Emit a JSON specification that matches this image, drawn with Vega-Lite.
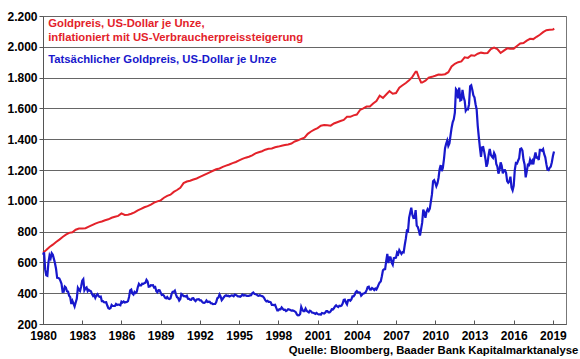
{
  "$schema": "https://vega.github.io/schema/vega-lite/v6.json",
  "width": 523,
  "height": 308,
  "autosize": {"type": "none"},
  "padding": {"left": 43, "top": 16, "right": 14, "bottom": 35},
  "background": "white",
  "config": {
    "view": {"stroke": "#777", "strokeWidth": 1},
    "font": "Liberation Sans"
  },
  "title": {
    "text": "Quelle: Bloomberg, Baader Bank Kapitalmarktanalyse",
    "orient": "bottom",
    "anchor": "end",
    "fontSize": 11.3,
    "fontWeight": "bold",
    "font": "Liberation Sans",
    "color": "#000",
    "offset": 4,
    "dx": 12
  },
  "datasets": {
    "infl": [
      {"t":1980.0,"v":662},{"t":1980.25,"v":680},{"t":1980.5,"v":700},{"t":1980.75,"v":715},
      {"t":1981.0,"v":733},{"t":1981.25,"v":748},{"t":1981.5,"v":765},{"t":1981.75,"v":780},
      {"t":1982.0,"v":792},{"t":1982.25,"v":796},{"t":1982.5,"v":812},{"t":1982.75,"v":820},
      {"t":1983.0,"v":820},{"t":1983.25,"v":822},{"t":1983.5,"v":832},{"t":1983.75,"v":842},
      {"t":1984.0,"v":852},{"t":1984.25,"v":860},{"t":1984.5,"v":866},{"t":1984.75,"v":874},
      {"t":1985.0,"v":880},{"t":1985.25,"v":890},{"t":1985.5,"v":896},{"t":1985.75,"v":902},
      {"t":1986.0,"v":918},{"t":1986.25,"v":908},{"t":1986.5,"v":910},{"t":1986.75,"v":916},
      {"t":1987.0,"v":925},{"t":1987.25,"v":938},{"t":1987.5,"v":948},{"t":1987.75,"v":958},
      {"t":1988.0,"v":965},{"t":1988.25,"v":975},{"t":1988.5,"v":988},{"t":1988.75,"v":996},
      {"t":1989.0,"v":1003},{"t":1989.25,"v":1020},{"t":1989.5,"v":1032},{"t":1989.75,"v":1040},
      {"t":1990.0,"v":1058},{"t":1990.25,"v":1070},{"t":1990.5,"v":1085},{"t":1990.75,"v":1115},
      {"t":1991.0,"v":1125},{"t":1991.25,"v":1130},{"t":1991.5,"v":1138},{"t":1991.75,"v":1145},
      {"t":1992.0,"v":1155},{"t":1992.25,"v":1165},{"t":1992.5,"v":1175},{"t":1992.75,"v":1185},
      {"t":1993.0,"v":1195},{"t":1993.25,"v":1205},{"t":1993.5,"v":1210},{"t":1993.75,"v":1220},
      {"t":1994.0,"v":1228},{"t":1994.25,"v":1236},{"t":1994.5,"v":1245},{"t":1994.75,"v":1252},
      {"t":1995.0,"v":1262},{"t":1995.25,"v":1272},{"t":1995.5,"v":1280},{"t":1995.75,"v":1286},
      {"t":1996.0,"v":1295},{"t":1996.25,"v":1308},{"t":1996.5,"v":1315},{"t":1996.75,"v":1322},
      {"t":1997.0,"v":1332},{"t":1997.25,"v":1338},{"t":1997.5,"v":1340},{"t":1997.75,"v":1348},
      {"t":1998.0,"v":1352},{"t":1998.25,"v":1358},{"t":1998.5,"v":1362},{"t":1998.75,"v":1366},
      {"t":1999.0,"v":1372},{"t":1999.25,"v":1385},{"t":1999.5,"v":1392},{"t":1999.75,"v":1402},
      {"t":2000.0,"v":1410},{"t":2000.25,"v":1435},{"t":2000.5,"v":1450},{"t":2000.75,"v":1462},
      {"t":2001.0,"v":1472},{"t":2001.25,"v":1488},{"t":2001.5,"v":1492},{"t":2001.75,"v":1490},
      {"t":2002.0,"v":1488},{"t":2002.25,"v":1502},{"t":2002.5,"v":1510},{"t":2002.75,"v":1518},
      {"t":2003.0,"v":1525},{"t":2003.25,"v":1545},{"t":2003.5,"v":1545},{"t":2003.75,"v":1555},
      {"t":2004.0,"v":1560},{"t":2004.25,"v":1590},{"t":2004.5,"v":1600},{"t":2004.75,"v":1612},
      {"t":2005.0,"v":1612},{"t":2005.25,"v":1632},{"t":2005.5,"v":1648},{"t":2005.75,"v":1682},
      {"t":2006.0,"v":1668},{"t":2006.25,"v":1690},{"t":2006.5,"v":1712},{"t":2006.75,"v":1695},
      {"t":2007.0,"v":1700},{"t":2007.25,"v":1735},{"t":2007.5,"v":1750},{"t":2007.75,"v":1765},
      {"t":2008.0,"v":1782},{"t":2008.25,"v":1805},{"t":2008.5,"v":1838},{"t":2008.583,"v":1838},
      {"t":2008.75,"v":1800},{"t":2008.917,"v":1768},{"t":2009.0,"v":1768},{"t":2009.25,"v":1780},
      {"t":2009.5,"v":1800},{"t":2009.75,"v":1805},{"t":2010.0,"v":1812},{"t":2010.25,"v":1820},
      {"t":2010.5,"v":1818},{"t":2010.75,"v":1822},{"t":2011.0,"v":1835},{"t":2011.25,"v":1872},
      {"t":2011.5,"v":1890},{"t":2011.75,"v":1900},{"t":2012.0,"v":1905},{"t":2012.25,"v":1932},
      {"t":2012.5,"v":1928},{"t":2012.75,"v":1945},{"t":2013.0,"v":1942},{"t":2013.25,"v":1955},
      {"t":2013.5,"v":1962},{"t":2013.75,"v":1958},{"t":2014.0,"v":1960},{"t":2014.25,"v":1985},
      {"t":2014.5,"v":1995},{"t":2014.75,"v":1985},{"t":2015.0,"v":1960},{"t":2015.25,"v":1975},
      {"t":2015.5,"v":1990},{"t":2015.75,"v":1988},{"t":2016.0,"v":1988},{"t":2016.25,"v":2005},
      {"t":2016.5,"v":2022},{"t":2016.75,"v":2025},{"t":2017.0,"v":2040},{"t":2017.25,"v":2052},
      {"t":2017.5,"v":2050},{"t":2017.75,"v":2065},{"t":2018.0,"v":2078},{"t":2018.25,"v":2095},
      {"t":2018.5,"v":2108},{"t":2018.75,"v":2110},{"t":2019.0,"v":2112},{"t":2019.1,"v":2118}
    ],
    "gold": [
      {"t":1980.0,"v":650},{"t":1980.083,"v":665},{"t":1980.167,"v":553},{"t":1980.25,"v":517},{"t":1980.333,"v":513},{"t":1980.417,"v":600},{"t":1980.5,"v":644},{"t":1980.583,"v":627},{"t":1980.667,"v":660},{"t":1980.75,"v":650},{"t":1980.833,"v":623},{"t":1980.917,"v":594},
      {"t":1981.0,"v":557},{"t":1981.083,"v":500},{"t":1981.167,"v":499},{"t":1981.25,"v":495},{"t":1981.333,"v":480},{"t":1981.417,"v":461},{"t":1981.5,"v":409},{"t":1981.583,"v":410},{"t":1981.667,"v":443},{"t":1981.75,"v":437},{"t":1981.833,"v":413},{"t":1981.917,"v":410},
      {"t":1982.0,"v":384},{"t":1982.083,"v":374},{"t":1982.167,"v":330},{"t":1982.25,"v":350},{"t":1982.333,"v":333},{"t":1982.417,"v":314},{"t":1982.5,"v":340},{"t":1982.583,"v":364},{"t":1982.667,"v":435},{"t":1982.75,"v":422},{"t":1982.833,"v":414},{"t":1982.917,"v":444},
      {"t":1983.0,"v":481},{"t":1983.083,"v":491},{"t":1983.167,"v":419},{"t":1983.25,"v":432},{"t":1983.333,"v":438},{"t":1983.417,"v":413},{"t":1983.5,"v":422},{"t":1983.583,"v":416},{"t":1983.667,"v":412},{"t":1983.75,"v":394},{"t":1983.833,"v":382},{"t":1983.917,"v":388},
      {"t":1984.0,"v":370},{"t":1984.083,"v":386},{"t":1984.167,"v":394},{"t":1984.25,"v":381},{"t":1984.333,"v":377},{"t":1984.417,"v":378},{"t":1984.5,"v":348},{"t":1984.583,"v":348},{"t":1984.667,"v":341},{"t":1984.75,"v":340},{"t":1984.833,"v":341},{"t":1984.917,"v":320},
      {"t":1985.0,"v":303},{"t":1985.083,"v":299},{"t":1985.167,"v":304},{"t":1985.25,"v":324},{"t":1985.333,"v":317},{"t":1985.417,"v":317},{"t":1985.5,"v":317},{"t":1985.583,"v":330},{"t":1985.667,"v":323},{"t":1985.75,"v":326},{"t":1985.833,"v":325},{"t":1985.917,"v":322},
      {"t":1986.0,"v":345},{"t":1986.083,"v":339},{"t":1986.167,"v":346},{"t":1986.25,"v":340},{"t":1986.333,"v":342},{"t":1986.417,"v":343},{"t":1986.5,"v":348},{"t":1986.583,"v":376},{"t":1986.667,"v":418},{"t":1986.75,"v":423},{"t":1986.833,"v":398},{"t":1986.917,"v":391},
      {"t":1987.0,"v":408},{"t":1987.083,"v":401},{"t":1987.167,"v":408},{"t":1987.25,"v":439},{"t":1987.333,"v":460},{"t":1987.417,"v":450},{"t":1987.5,"v":450},{"t":1987.583,"v":461},{"t":1987.667,"v":460},{"t":1987.75,"v":465},{"t":1987.833,"v":468},{"t":1987.917,"v":487},
      {"t":1988.0,"v":477},{"t":1988.083,"v":442},{"t":1988.167,"v":443},{"t":1988.25,"v":452},{"t":1988.333,"v":451},{"t":1988.417,"v":452},{"t":1988.5,"v":437},{"t":1988.583,"v":440},{"t":1988.667,"v":413},{"t":1988.75,"v":406},{"t":1988.833,"v":420},{"t":1988.917,"v":419},
      {"t":1989.0,"v":404},{"t":1989.083,"v":388},{"t":1989.167,"v":390},{"t":1989.25,"v":384},{"t":1989.333,"v":371},{"t":1989.417,"v":367},{"t":1989.5,"v":375},{"t":1989.583,"v":365},{"t":1989.667,"v":362},{"t":1989.75,"v":367},{"t":1989.833,"v":394},{"t":1989.917,"v":409},
      {"t":1990.0,"v":410},{"t":1990.083,"v":417},{"t":1990.167,"v":393},{"t":1990.25,"v":374},{"t":1990.333,"v":369},{"t":1990.417,"v":352},{"t":1990.5,"v":362},{"t":1990.583,"v":395},{"t":1990.667,"v":389},{"t":1990.75,"v":381},{"t":1990.833,"v":381},{"t":1990.917,"v":378},
      {"t":1991.0,"v":383},{"t":1991.083,"v":364},{"t":1991.167,"v":363},{"t":1991.25,"v":358},{"t":1991.333,"v":357},{"t":1991.417,"v":367},{"t":1991.5,"v":368},{"t":1991.583,"v":356},{"t":1991.667,"v":349},{"t":1991.75,"v":359},{"t":1991.833,"v":360},{"t":1991.917,"v":361},
      {"t":1992.0,"v":354},{"t":1992.083,"v":354},{"t":1992.167,"v":345},{"t":1992.25,"v":338},{"t":1992.333,"v":337},{"t":1992.417,"v":341},{"t":1992.5,"v":353},{"t":1992.583,"v":343},{"t":1992.667,"v":345},{"t":1992.75,"v":344},{"t":1992.833,"v":335},{"t":1992.917,"v":334},
      {"t":1993.0,"v":329},{"t":1993.083,"v":330},{"t":1993.167,"v":330},{"t":1993.25,"v":342},{"t":1993.333,"v":367},{"t":1993.417,"v":372},{"t":1993.5,"v":392},{"t":1993.583,"v":379},{"t":1993.667,"v":355},{"t":1993.75,"v":364},{"t":1993.833,"v":374},{"t":1993.917,"v":383},
      {"t":1994.0,"v":387},{"t":1994.083,"v":382},{"t":1994.167,"v":384},{"t":1994.25,"v":378},{"t":1994.333,"v":381},{"t":1994.417,"v":386},{"t":1994.5,"v":385},{"t":1994.583,"v":380},{"t":1994.667,"v":391},{"t":1994.75,"v":389},{"t":1994.833,"v":384},{"t":1994.917,"v":379},
      {"t":1995.0,"v":379},{"t":1995.083,"v":377},{"t":1995.167,"v":382},{"t":1995.25,"v":391},{"t":1995.333,"v":385},{"t":1995.417,"v":387},{"t":1995.5,"v":386},{"t":1995.583,"v":383},{"t":1995.667,"v":383},{"t":1995.75,"v":383},{"t":1995.833,"v":386},{"t":1995.917,"v":387},
      {"t":1996.0,"v":400},{"t":1996.083,"v":405},{"t":1996.167,"v":396},{"t":1996.25,"v":393},{"t":1996.333,"v":392},{"t":1996.417,"v":385},{"t":1996.5,"v":383},{"t":1996.583,"v":387},{"t":1996.667,"v":383},{"t":1996.75,"v":381},{"t":1996.833,"v":378},{"t":1996.917,"v":369},
      {"t":1997.0,"v":355},{"t":1997.083,"v":347},{"t":1997.167,"v":351},{"t":1997.25,"v":344},{"t":1997.333,"v":344},{"t":1997.417,"v":341},{"t":1997.5,"v":324},{"t":1997.583,"v":324},{"t":1997.667,"v":323},{"t":1997.75,"v":325},{"t":1997.833,"v":306},{"t":1997.917,"v":289},
      {"t":1998.0,"v":289},{"t":1998.083,"v":297},{"t":1998.167,"v":296},{"t":1998.25,"v":308},{"t":1998.333,"v":299},{"t":1998.417,"v":292},{"t":1998.5,"v":293},{"t":1998.583,"v":284},{"t":1998.667,"v":289},{"t":1998.75,"v":296},{"t":1998.833,"v":294},{"t":1998.917,"v":291},
      {"t":1999.0,"v":287},{"t":1999.083,"v":288},{"t":1999.167,"v":286},{"t":1999.25,"v":282},{"t":1999.333,"v":277},{"t":1999.417,"v":262},{"t":1999.5,"v":256},{"t":1999.583,"v":257},{"t":1999.667,"v":265},{"t":1999.75,"v":311},{"t":1999.833,"v":293},{"t":1999.917,"v":284},
      {"t":2000.0,"v":284},{"t":2000.083,"v":300},{"t":2000.167,"v":286},{"t":2000.25,"v":280},{"t":2000.333,"v":275},{"t":2000.417,"v":286},{"t":2000.5,"v":282},{"t":2000.583,"v":274},{"t":2000.667,"v":273},{"t":2000.75,"v":270},{"t":2000.833,"v":266},{"t":2000.917,"v":272},
      {"t":2001.0,"v":266},{"t":2001.083,"v":262},{"t":2001.167,"v":263},{"t":2001.25,"v":261},{"t":2001.333,"v":272},{"t":2001.417,"v":270},{"t":2001.5,"v":268},{"t":2001.583,"v":273},{"t":2001.667,"v":283},{"t":2001.75,"v":283},{"t":2001.833,"v":276},{"t":2001.917,"v":276},
      {"t":2002.0,"v":282},{"t":2002.083,"v":296},{"t":2002.167,"v":294},{"t":2002.25,"v":302},{"t":2002.333,"v":314},{"t":2002.417,"v":321},{"t":2002.5,"v":314},{"t":2002.583,"v":310},{"t":2002.667,"v":319},{"t":2002.75,"v":317},{"t":2002.833,"v":319},{"t":2002.917,"v":333},
      {"t":2003.0,"v":357},{"t":2003.083,"v":359},{"t":2003.167,"v":340},{"t":2003.25,"v":328},{"t":2003.333,"v":355},{"t":2003.417,"v":356},{"t":2003.5,"v":351},{"t":2003.583,"v":360},{"t":2003.667,"v":379},{"t":2003.75,"v":379},{"t":2003.833,"v":389},{"t":2003.917,"v":407},
      {"t":2004.0,"v":414},{"t":2004.083,"v":405},{"t":2004.167,"v":406},{"t":2004.25,"v":404},{"t":2004.333,"v":384},{"t":2004.417,"v":392},{"t":2004.5,"v":398},{"t":2004.583,"v":400},{"t":2004.667,"v":405},{"t":2004.75,"v":420},{"t":2004.833,"v":439},{"t":2004.917,"v":442},
      {"t":2005.0,"v":424},{"t":2005.083,"v":423},{"t":2005.167,"v":434},{"t":2005.25,"v":429},{"t":2005.333,"v":421},{"t":2005.417,"v":430},{"t":2005.5,"v":424},{"t":2005.583,"v":438},{"t":2005.667,"v":456},{"t":2005.75,"v":470},{"t":2005.833,"v":476},{"t":2005.917,"v":510},
      {"t":2006.0,"v":549},{"t":2006.083,"v":555},{"t":2006.167,"v":557},{"t":2006.25,"v":610},{"t":2006.333,"v":655},{"t":2006.417,"v":596},{"t":2006.5,"v":633},{"t":2006.583,"v":632},{"t":2006.667,"v":599},{"t":2006.75,"v":585},{"t":2006.833,"v":627},{"t":2006.917,"v":629},
      {"t":2007.0,"v":631},{"t":2007.083,"v":665},{"t":2007.167,"v":655},{"t":2007.25,"v":680},{"t":2007.333,"v":668},{"t":2007.417,"v":655},{"t":2007.5,"v":666},{"t":2007.583,"v":665},{"t":2007.667,"v":713},{"t":2007.75,"v":754},{"t":2007.833,"v":806},{"t":2007.917,"v":803},
      {"t":2008.0,"v":889},{"t":2008.083,"v":923},{"t":2008.167,"v":955},{"t":2008.25,"v":909},{"t":2008.333,"v":888},{"t":2008.417,"v":889},{"t":2008.5,"v":939},{"t":2008.583,"v":839},{"t":2008.667,"v":830},{"t":2008.75,"v":806},{"t":2008.833,"v":775},{"t":2008.917,"v":816},
      {"t":2009.0,"v":858},{"t":2009.083,"v":943},{"t":2009.167,"v":924},{"t":2009.25,"v":890},{"t":2009.333,"v":929},{"t":2009.417,"v":946},{"t":2009.5,"v":934},{"t":2009.583,"v":949},{"t":2009.667,"v":996},{"t":2009.75,"v":1043},{"t":2009.833,"v":1127},{"t":2009.917,"v":1134},
      {"t":2010.0,"v":1117},{"t":2010.083,"v":1095},{"t":2010.167,"v":1113},{"t":2010.25,"v":1148},{"t":2010.333,"v":1205},{"t":2010.417,"v":1232},{"t":2010.5,"v":1193},{"t":2010.583,"v":1215},{"t":2010.667,"v":1271},{"t":2010.75,"v":1342},{"t":2010.833,"v":1370},{"t":2010.917,"v":1391},
      {"t":2011.0,"v":1356},{"t":2011.083,"v":1372},{"t":2011.167,"v":1424},{"t":2011.25,"v":1473},{"t":2011.333,"v":1510},{"t":2011.417,"v":1529},{"t":2011.5,"v":1572},{"t":2011.583,"v":1725},{"t":2011.667,"v":1715},{"t":2011.75,"v":1665},{"t":2011.833,"v":1735},{"t":2011.917,"v":1652},
      {"t":2012.0,"v":1656},{"t":2012.083,"v":1720},{"t":2012.167,"v":1673},{"t":2012.25,"v":1650},{"t":2012.333,"v":1585},{"t":2012.417,"v":1596},{"t":2012.5,"v":1594},{"t":2012.583,"v":1626},{"t":2012.667,"v":1744},{"t":2012.75,"v":1750},{"t":2012.833,"v":1721},{"t":2012.917,"v":1684},
      {"t":2013.0,"v":1671},{"t":2013.083,"v":1627},{"t":2013.167,"v":1593},{"t":2013.25,"v":1487},{"t":2013.333,"v":1414},{"t":2013.417,"v":1343},{"t":2013.5,"v":1286},{"t":2013.583,"v":1347},{"t":2013.667,"v":1349},{"t":2013.75,"v":1316},{"t":2013.833,"v":1275},{"t":2013.917,"v":1221},
      {"t":2014.0,"v":1244},{"t":2014.083,"v":1300},{"t":2014.167,"v":1336},{"t":2014.25,"v":1299},{"t":2014.333,"v":1287},{"t":2014.417,"v":1279},{"t":2014.5,"v":1311},{"t":2014.583,"v":1296},{"t":2014.667,"v":1239},{"t":2014.75,"v":1222},{"t":2014.833,"v":1176},{"t":2014.917,"v":1200},
      {"t":2015.0,"v":1250},{"t":2015.083,"v":1227},{"t":2015.167,"v":1178},{"t":2015.25,"v":1198},{"t":2015.333,"v":1199},{"t":2015.417,"v":1181},{"t":2015.5,"v":1128},{"t":2015.583,"v":1117},{"t":2015.667,"v":1125},{"t":2015.75,"v":1157},{"t":2015.833,"v":1086},{"t":2015.917,"v":1068},
      {"t":2016.0,"v":1097},{"t":2016.083,"v":1199},{"t":2016.167,"v":1245},{"t":2016.25,"v":1242},{"t":2016.333,"v":1260},{"t":2016.417,"v":1276},{"t":2016.5,"v":1337},{"t":2016.583,"v":1340},{"t":2016.667,"v":1326},{"t":2016.75,"v":1266},{"t":2016.833,"v":1236},{"t":2016.917,"v":1152},
      {"t":2017.0,"v":1192},{"t":2017.083,"v":1234},{"t":2017.167,"v":1231},{"t":2017.25,"v":1266},{"t":2017.333,"v":1246},{"t":2017.417,"v":1260},{"t":2017.5,"v":1236},{"t":2017.583,"v":1283},{"t":2017.667,"v":1314},{"t":2017.75,"v":1280},{"t":2017.833,"v":1282},{"t":2017.917,"v":1265},
      {"t":2018.0,"v":1331},{"t":2018.083,"v":1331},{"t":2018.167,"v":1325},{"t":2018.25,"v":1335},{"t":2018.333,"v":1303},{"t":2018.417,"v":1282},{"t":2018.5,"v":1238},{"t":2018.583,"v":1202},{"t":2018.667,"v":1199},{"t":2018.75,"v":1215},{"t":2018.833,"v":1221},{"t":2018.917,"v":1250},
      {"t":2019.0,"v":1291},{"t":2019.083,"v":1320}
    ],
    "notes": [
      {"label": "Goldpreis, US-Dollar je Unze,", "series": "infl", "t": 1980.4, "v": 2148},
      {"label": "inflationiert mit US-Verbraucherpreissteigerung", "series": "infl", "t": 1980.4, "v": 2057},
      {"label": "Tatsächlicher Goldpreis, US-Dollar je Unze", "series": "gold", "t": 1980.4, "v": 1914}
    ]
  },
  "encoding": {
    "x": {
      "field": "t",
      "type": "quantitative",
      "scale": {"domain": [1980, 2020], "nice": false, "zero": false},
      "axis": {
        "title": null,
        "values": [1980, 1983, 1986, 1989, 1992, 1995, 1998, 2001, 2004, 2007, 2010, 2013, 2016, 2019],
        "format": "d",
        "grid": false,
        "domainColor": "#555",
        "tickColor": "#555",
        "tickSize": -4,
        "labelFont": "Liberation Sans",
        "labelFontSize": 12,
        "labelFontWeight": "bold",
        "labelColor": "#000",
        "labelPadding": 10,
        "labelFlush": false,
        "labelOverlap": false
      }
    },
    "y": {
      "field": "v",
      "type": "quantitative",
      "scale": {"domain": [200, 2200], "nice": false, "zero": false},
      "axis": {
        "title": null,
        "values": [200, 400, 600, 800, 1000, 1200, 1400, 1600, 1800, 2000, 2200],
        "labelExpr": "replace(format(datum.value, ',d'), ',', '.')",
        "grid": true,
        "gridColor": "#666",
        "gridWidth": 1,
        "domainColor": "#555",
        "tickColor": "#555",
        "tickSize": 4,
        "labelFont": "Liberation Sans",
        "labelFontSize": 12,
        "labelFontWeight": "bold",
        "labelColor": "#000",
        "labelPadding": 2,
        "labelFlush": false,
        "labelOverlap": false
      }
    }
  },
  "layer": [
    {
      "data": {"name": "infl"},
      "mark": {"type": "line", "color": "#e3222a", "strokeWidth": 2},
      "encoding": {}
    },
    {
      "data": {"name": "gold"},
      "mark": {"type": "line", "color": "#1818cc", "strokeWidth": 2.2},
      "encoding": {}
    },
    {
      "data": {"name": "notes"},
      "mark": {"type": "text", "align": "left", "baseline": "middle", "font": "Liberation Sans", "fontSize": 11.3, "fontWeight": "bold"},
      "encoding": {
        "text": {"field": "label", "type": "nominal"},
        "color": {
          "field": "series",
          "type": "nominal",
          "scale": {"domain": ["infl", "gold"], "range": ["#e3222a", "#1818cc"]},
          "legend": null
        }
      }
    }
  ]
}
